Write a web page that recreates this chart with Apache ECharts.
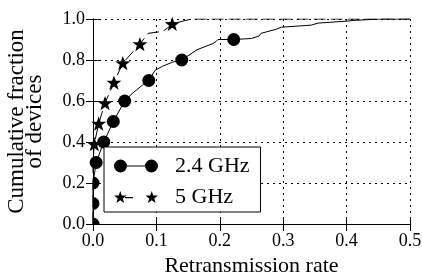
<!DOCTYPE html>
<html>
<head>
<meta charset="utf-8">
<script src="https://cdn.jsdelivr.net/npm/echarts@6/dist/echarts.min.js"></script>
<style>
html,body{margin:0;padding:0;background:#fff;}
#c{width:422px;height:274px;}
</style>
</head>
<body>
<div id="c"></div>
<script>
// ---- data ----
const xTicks = [0, 0.1, 0.2, 0.3, 0.4, 0.5];
const yTicks = [0, 0.2, 0.4, 0.6, 0.8, 1.0];

// 2.4 GHz CDF curve
const curve24X = [0, 0, 0, 0.005, 0.017, 0.032, 0.050, 0.063, 0.079, 0.088, 0.098, 0.110, 0.126, 0.140, 0.164, 0.189, 0.194, 0.197, 0.222, 0.250, 0.262, 0.265, 0.289, 0.297, 0.344, 0.355, 0.402, 0.410, 0.454, 0.500];
const curve24Y = [0, 0.1, 0.2, 0.3, 0.4, 0.5, 0.6, 0.64, 0.68, 0.7, 0.75, 0.77, 0.79, 0.8, 0.85, 0.88, 0.89, 0.9, 0.9, 0.905, 0.917, 0.93, 0.95, 0.96, 0.97, 0.98, 0.99, 0.993, 1.0, 1.0];
// 2.4 GHz markers
const marks24X = [0, 0, 0, 0.005, 0.017, 0.032, 0.050, 0.088, 0.140, 0.222];
const marks24Y = [0, 0.1, 0.2, 0.3, 0.4, 0.5, 0.6, 0.7, 0.8, 0.9];

// 5 GHz CDF curve
const curve5X = [0, 0, 0, 0, 0.002, 0.009, 0.019, 0.033, 0.047, 0.074, 0.087, 0.110, 0.117, 0.125, 0.142, 0.156, 0.500];
const curve5Y = [0, 0.1, 0.2, 0.3, 0.39, 0.49, 0.59, 0.69, 0.785, 0.878, 0.93, 0.94, 0.955, 0.976, 0.99, 1.0, 1.0];
// 5 GHz markers
const marks5X = [0.002, 0.009, 0.019, 0.033, 0.047, 0.074, 0.125];
const marks5Y = [0.39, 0.49, 0.59, 0.69, 0.785, 0.878, 0.976];

const seriesNames = ['2.4 GHz', '5 GHz'];

// ---- helpers for symbols ----
function starPath(cx, cy, R, r) {
  let d = '';
  for (let i = 0; i < 10; i++) {
    const a = (-90 + i * 36) * Math.PI / 180;
    const rad = i % 2 === 0 ? R : r;
    const px = (cx + rad * Math.cos(a)).toFixed(3);
    const py = (cy + rad * Math.sin(a)).toFixed(3);
    d += (i === 0 ? 'M' : 'L') + px + ',' + py + ' ';
  }
  return d + 'Z ';
}
function circlePath(cx, cy, r) {
  return 'M' + (cx - r) + ',' + cy + ' A' + r + ',' + r + ' 0 1 0 ' + (cx + r) + ',' + cy +
         ' A' + r + ',' + r + ' 0 1 0 ' + (cx - r) + ',' + cy + ' Z ';
}
const STAR = 'path://' + starPath(0, 0, 10, 4);
const HALF = 'path://M0,0 A6.5,6.5 0 0 1 0,13 Z';
const QUARTER = 'path://M0,0 A6.5,6.5 0 0 1 6.5,6.5 L0,6.5 Z';
const ICON24 = 'path://' + circlePath(6.5, 6.5, 6.5) + 'M13,6 L31,6 L31,7 L13,7 Z ' + circlePath(37.5, 6.5, 6.5);
const ICON5 = 'path://' + starPath(6.5, 6.5, 6.5, 2.6) + 'M11,6 L19,6 L19,7 L11,7 Z ' + starPath(37.5, 6.5, 6.5, 2.6);

const FONT = "'Liberation Serif', 'DejaVu Serif', serif";

const zip = (xs, ys) => xs.map((x, i) => [x, ys[i]]);

const marks24 = zip(marks24X, marks24Y).map(p => {
  if (p[0] === 0 && p[1] === 0) return { value: p, symbol: QUARTER, symbolSize: [6.5, 6.5], symbolOffset: [3.25, -3.25] };
  if (p[0] === 0) return { value: p, symbol: HALF, symbolSize: [6.5, 13], symbolOffset: [3.25, 0] };
  return { value: p };
});

const chart = echarts.init(document.getElementById('c'), null, { renderer: 'canvas' });

const axisCommon = {
  axisLine: { show: true, lineStyle: { color: '#000', width: 1 } },
  axisTick: { show: true, inside: true, length: 7, lineStyle: { color: '#000', width: 1 } },
};

chart.setOption({
  animation: false,
  backgroundColor: '#fff',
  textStyle: { fontFamily: FONT, color: '#000' },
  grid: { left: 93, right: 12, top: 19, bottom: 50, containLabel: false, outerBoundsMode: 'none' },
  legend: {
    orient: 'vertical',
    left: 104,
    top: 147,
    padding: [7, 11, 3, 10],
    itemGap: 7,
    itemWidth: 44,
    itemHeight: 13,
    itemStyle: { color: '#000', opacity: 1 },
    borderColor: '#000',
    borderWidth: 1,
    backgroundColor: '#fff',
    borderRadius: 0,
    textStyle: { fontFamily: FONT, fontSize: 22, color: '#000', lineHeight: 24, padding: [0, 0, 0, 12] },
    data: [
      { name: seriesNames[0], icon: ICON24 },
      { name: seriesNames[1], icon: ICON5 }
    ]
  },
  xAxis: [
    Object.assign({
      type: 'value', min: xTicks[0], max: xTicks[xTicks.length - 1], interval: 0.1,
      position: 'bottom',
      name: 'Retransmission rate', nameLocation: 'middle', nameGap: 31,
      nameTextStyle: { fontFamily: FONT, fontSize: 22, color: '#000' },
      axisLabel: { fontFamily: FONT, fontSize: 18, color: '#000', margin: 8, formatter: v => v.toFixed(1) },
      splitLine: { show: true, lineStyle: { color: '#000', width: 1, type: [2, 4] } }
    }, axisCommon),
    Object.assign({
      type: 'value', min: xTicks[0], max: xTicks[xTicks.length - 1], interval: 0.1,
      position: 'top', axisLabel: { show: false }, splitLine: { show: false }
    }, axisCommon)
  ],
  yAxis: [
    Object.assign({
      type: 'value', min: yTicks[0], max: yTicks[yTicks.length - 1], interval: 0.2,
      position: 'left',
      name: 'Cumulative fraction\nof devices', nameLocation: 'middle', nameGap: 49, nameRotate: 90,
      nameTextStyle: { fontFamily: FONT, fontSize: 23, color: '#000', lineHeight: 18 },
      axisLabel: { fontFamily: FONT, fontSize: 18, color: '#000', margin: 8, formatter: v => v.toFixed(1) },
      splitLine: { show: true, lineStyle: { color: '#000', width: 1, type: [2, 4] } }
    }, axisCommon),
    Object.assign({
      type: 'value', min: yTicks[0], max: yTicks[yTicks.length - 1], interval: 0.2,
      position: 'right', axisLabel: { show: false }, splitLine: { show: false }
    }, axisCommon)
  ],
  series: [
    {
      name: seriesNames[0], type: 'line', data: zip(curve24X, curve24Y),
      showSymbol: false, symbol: 'none',
      lineStyle: { color: '#000', width: 1 }, itemStyle: { color: '#000' }, z: 2
    },
    {
      name: seriesNames[0], type: 'scatter', data: marks24,
      symbol: 'circle', symbolSize: 13,
      itemStyle: { color: '#000', opacity: 1 }, z: 3
    },
    {
      name: seriesNames[1], type: 'line', data: zip(curve5X, curve5Y),
      showSymbol: false, symbol: 'none',
      lineStyle: { color: '#000', width: 1, type: [12, 5] }, itemStyle: { color: '#000' }, z: 2
    },
    {
      name: seriesNames[1], type: 'scatter', data: zip(marks5X, marks5Y),
      symbol: STAR, symbolSize: 15, symbolKeepAspect: true,
      itemStyle: { color: '#000', opacity: 1 }, z: 3
    }
  ]
});
</script>
</body>
</html>
